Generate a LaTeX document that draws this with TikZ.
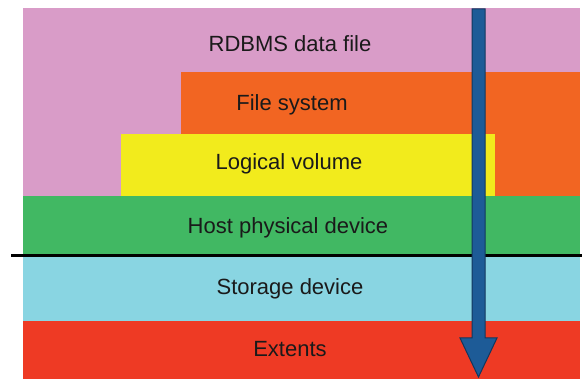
\documentclass[tikz,border=0pt]{standalone}
\usepackage{fontspec}
\setmainfont{Liberation Sans}
\definecolor{layerpink}{HTML}{D99CC8}
\definecolor{layerorange}{HTML}{F26522}
\definecolor{layeryellow}{HTML}{F2EB1C}
\definecolor{layergreen}{HTML}{41B863}
\definecolor{layercyan}{HTML}{89D5E2}
\definecolor{layerred}{HTML}{EE3A24}
\definecolor{arrowblue}{HTML}{1D5B97}
\definecolor{arrowedge}{HTML}{12375E}
\definecolor{labeltext}{HTML}{1A1A1A}
\begin{document}
\begin{tikzpicture}[x=1pt,y=-1pt,
  layer/.style={fill=#1,draw=none},
  layerlabel/.style={text=labeltext,font=\fontsize{22}{26}\selectfont,inner sep=0pt,anchor=base}]
\useasboundingbox[fill=white] (0,0) rectangle (582,379);

% stacked layers, top to bottom
\fill[layer=layerpink]   (23,8)    rectangle (580,196);
\fill[layer=layerorange] (181,72)  rectangle (580,196);
\fill[layer=layeryellow] (121,134) rectangle (495,196);
\fill[layer=layergreen]  (23,196)  rectangle (580,256);
\fill[layer=layercyan]   (23,256)  rectangle (580,321);
\fill[layer=layerred]    (23,321)  rectangle (580,379);

% layer names, placed on their baselines
\node[layerlabel] (rdbms)   at (290,52)  {RDBMS data file};
\node[layerlabel] (fs)      at (292,111) {File system};
\node[layerlabel] (lv)      at (289,170) {Logical volume};
\node[layerlabel] (host)    at (288,234) {Host physical device};
\node[layerlabel] (storage) at (290,295) {Storage device};
\node[layerlabel] (extents) at (290,357) {Extents};

% host / storage boundary
\coordinate (sepL) at (11,255.5);
\coordinate (sepR) at (582,255.5);
\draw[line width=3.5pt,black] (sepL) -- (sepR);

% downward arrow through all layers (head base 39pt above the tip)
\coordinate (arrtop) at (478.5,9);
\coordinate (arrtip) at (478.5,377);
\draw[fill=arrowblue,draw=arrowedge,line width=1pt,line join=miter]
  ([xshift=-6.5pt]arrtop) -- ([xshift=6.5pt]arrtop)
  -- ([xshift=6.5pt,yshift=39pt]arrtip) -- ([xshift=18.5pt,yshift=39pt]arrtip)
  -- (arrtip)
  -- ([xshift=-18.5pt,yshift=39pt]arrtip) -- ([xshift=-6.5pt,yshift=39pt]arrtip)
  -- cycle;
\end{tikzpicture}
\end{document}
